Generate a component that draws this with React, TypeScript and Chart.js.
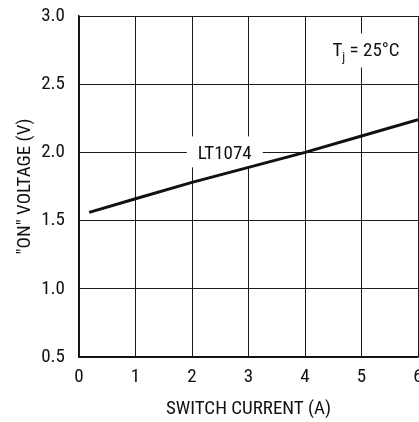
import { useEffect, useRef } from "react";
import { Chart, registerables } from "chart.js";

Chart.register(...registerables);

// ---- data ----
const switchCurrent = [0.18, 1, 2, 3, 4, 5, 6];
const onVoltage = [1.56, 1.66, 1.78, 1.89, 2.0, 2.12, 2.24];
const xTickValues = [0, 1, 2, 3, 4, 5, 6];
const yTickValues = [0.5, 1.0, 1.5, 2.0, 2.5, 3.0];
const seriesName = "LT1074";
const seriesLabelAt = [2.58, 2.0];
const conditionMain = "T";
const conditionSub = "j";
const conditionRest = " = 25°C";
const conditionAt = [5.08, 2.74];
const xTitle = "SWITCH CURRENT (A)";
const yTitle = "\"ON\" VOLTAGE (V)";

const FONT_FAMILY = '"Roboto Condensed", "Liberation Sans Narrow", "Liberation Sans", Arial, sans-serif';
const FS = 19;
const INK = "#111";

const annotations = {
  id: "annotations",
  beforeDatasetsDraw(chart: any) {
    const { ctx, scales } = chart;
    const x = scales.x;
    const y = scales.y;
    ctx.save();
    ctx.font = `${FS}px ${FONT_FAMILY}`;
    ctx.textBaseline = "middle";

    // series label with white knock-out
    const lx = x.getPixelForValue(seriesLabelAt[0]);
    const ly = y.getPixelForValue(seriesLabelAt[1]);
    const lw = ctx.measureText(seriesName).width;
    ctx.fillStyle = "#fff";
    ctx.fillRect(lx - lw / 2 - 11, ly - 16, lw + 22, 31);
    ctx.fillStyle = INK;
    ctx.textAlign = "center";
    ctx.fillText(seriesName, lx, ly + 2);

    // condition label
    const cx = x.getPixelForValue(conditionAt[0]);
    const cy = y.getPixelForValue(conditionAt[1]);
    ctx.font = `${FS}px ${FONT_FAMILY}`;
    const wT = ctx.measureText(conditionMain).width;
    const wR = ctx.measureText(conditionRest).width;
    ctx.font = `13px ${FONT_FAMILY}`;
    const wJ = ctx.measureText(conditionSub).width;
    const total = wT + wJ + wR;
    ctx.fillStyle = "#fff";
    ctx.fillRect(cx - total / 2 - 8, cy - 18, total + 16, 34);
    ctx.fillStyle = INK;
    ctx.textAlign = "left";
    let sx = cx - total / 2;
    ctx.font = `${FS}px ${FONT_FAMILY}`;
    ctx.fillText(conditionMain, sx, cy);
    sx += wT;
    ctx.font = `13px ${FONT_FAMILY}`;
    ctx.fillText(conditionSub, sx, cy + 6);
    sx += wJ;
    ctx.font = `${FS}px ${FONT_FAMILY}`;
    ctx.fillText(conditionRest, sx, cy);
    ctx.restore();
  },
};

export default function App() {
  const ref = useRef<HTMLCanvasElement | null>(null);

  useEffect(() => {
    if (!ref.current) return;
    const chart = new Chart(ref.current, {
      type: "line",
      data: {
        datasets: [
          {
            label: seriesName,
            data: switchCurrent.map((c, i) => ({ x: c, y: onVoltage[i] })),
            borderColor: INK,
            borderWidth: 3,
            pointRadius: 0,
            tension: 0,
            fill: false,
          },
        ],
      },
      options: {
        animation: false,
        responsive: false,
        maintainAspectRatio: false,
        layout: { padding: { left: 0, top: 16, right: 32, bottom: 0 } },
        plugins: {
          legend: { display: false },
          tooltip: { enabled: false },
        },
        scales: {
          x: {
            type: "linear",
            min: 0,
            max: 6,
            afterBuildTicks: (s: any) => {
              s.ticks = xTickValues.map((v) => ({ value: v }));
            },
            afterFit: (s: any) => {
              s.height = 65;
              s.paddingLeft = 0;
              s.paddingRight = 0;
            },
            ticks: {
              color: INK,
              font: { family: FONT_FAMILY, size: FS },
              padding: 9,
              maxRotation: 0,
              callback: (v: any) => String(v),
            },
            grid: { color: "#1a1a1a", lineWidth: 1, drawTicks: false },
            border: { color: "#111", width: 1.5 },
            title: {
              display: true,
              text: xTitle,
              color: INK,
              font: { family: FONT_FAMILY, size: FS },
              padding: { top: 0, bottom: 1 },
            },
          },
          y: {
            type: "linear",
            min: 0.5,
            max: 3.0,
            afterBuildTicks: (s: any) => {
              s.ticks = yTickValues.map((v) => ({ value: v }));
            },
            afterFit: (s: any) => {
              s.width = 79;
              s.paddingTop = 0;
              s.paddingBottom = 0;
            },
            ticks: {
              color: INK,
              font: { family: FONT_FAMILY, size: FS },
              padding: 14,
              callback: (v: any) => Number(v).toFixed(1),
            },
            grid: { color: "#1a1a1a", lineWidth: 1, drawTicks: false },
            border: { color: "#111", width: 1.5 },
            title: {
              display: true,
              text: yTitle,
              color: INK,
              font: { family: FONT_FAMILY, size: FS },
              padding: { top: 14, bottom: 0 },
            },
          },
        },
      },
      plugins: [annotations],
    });
    return () => chart.destroy();
  }, []);

  return (
    <div
      style={{
        position: "fixed",
        left: 0,
        top: 0,
        width: 419,
        height: 422,
        overflow: "hidden",
        background: "#fff",
      }}
    >
      <canvas ref={ref} width={450} height={422} style={{ display: "block" }} />
    </div>
  );
}
